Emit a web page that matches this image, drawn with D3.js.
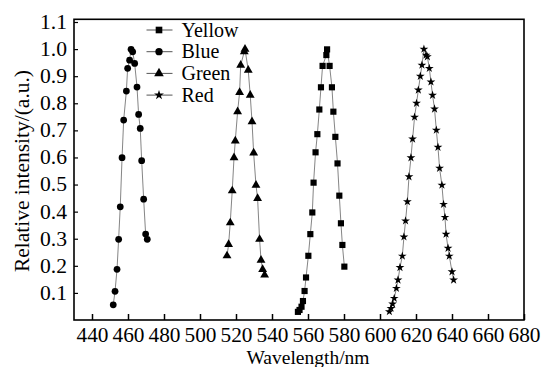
<!DOCTYPE html>
<html><head><meta charset="utf-8">
<script src="https://cdn.jsdelivr.net/npm/d3@7"></script>
<style>body{margin:0;background:#fff}svg{display:block}</style>
</head><body><svg id="c" width="549" height="367"></svg>
<script>
const xTicks=[440,460,480,500,520,540,560,580,600,620,640,660,680];
const yTicks=[0.1,0.2,0.3,0.4,0.5,0.6,0.7,0.8,0.9,1.0,1.1];
const seriesNames=["Yellow","Blue","Green","Red"];
const blueX=[451.8,452.8,453.9,454.8,455.7,456.7,457.6,459.1,459.8,460.9,461.7,462.6,463.7,465.0,465.9,466.8,467.6,468.7,469.8,470.7];
const blueY=[0.056,0.106,0.187,0.298,0.418,0.599,0.738,0.845,0.929,0.959,0.999,0.990,0.947,0.860,0.759,0.707,0.588,0.446,0.317,0.298];
const greenX=[515.0,515.9,516.8,517.9,518.9,519.6,520.9,522.0,522.6,524.6,525.0,526.8,527.9,528.9,529.8,531.1,532.0,533.1,533.9,534.8,535.9];
const greenY=[0.237,0.279,0.359,0.477,0.599,0.661,0.769,0.840,0.941,0.990,1.000,0.922,0.830,0.732,0.617,0.498,0.449,0.298,0.221,0.187,0.166];
const yellowX=[554.4,555.3,556.4,557.2,558.1,558.9,560.2,561.3,562.4,563.1,564.2,565.2,566.3,567.2,568.1,570.2,570.6,572.0,573.3,574.1,575.2,576.4,577.4,578.3,579.1,580.2];
const yellowY=[0.030,0.037,0.049,0.070,0.107,0.157,0.237,0.317,0.397,0.507,0.619,0.686,0.777,0.859,0.938,0.978,0.999,0.938,0.859,0.769,0.676,0.578,0.459,0.357,0.277,0.197];
const redX=[605.2,606.1,607.0,607.9,609.1,610.0,611.1,612.4,613.3,614.2,615.2,616.1,617.2,618.1,619.2,620.3,621.3,622.4,623.3,624.4,625.6,626.3,627.4,628.3,629.2,630.3,631.3,632.2,633.1,634.4,635.3,636.1,636.7,637.8,638.5,640.0,640.9];
const redY=[0.031,0.043,0.059,0.080,0.117,0.148,0.194,0.236,0.307,0.366,0.437,0.529,0.599,0.668,0.749,0.800,0.849,0.900,0.941,1.000,0.978,0.972,0.929,0.879,0.830,0.779,0.701,0.638,0.560,0.498,0.427,0.379,0.317,0.265,0.236,0.178,0.148];

const FONT="Liberation Serif";
const svg=d3.select("#c");
const L=74,R=524,T=19.3,B=320;
const x=d3.scaleLinear().domain([430,680]).range([L,R]);
const y=d3.scaleLinear().domain([0,1.11]).range([B,T]);

const series=[
 {name:"Yellow",xs:yellowX,ys:yellowY,sym:d3.symbolSquare,size:38},
 {name:"Blue",xs:blueX,ys:blueY,sym:d3.symbolCircle,size:36},
 {name:"Green",xs:greenX,ys:greenY,sym:d3.symbolTriangle,size:34},
 {name:"Red",xs:redX,ys:redY,sym:d3.symbolStar,size:24}
];

const xa=svg.append("g").attr("transform",`translate(0,${B})`)
 .call(d3.axisBottom(x).tickValues(xTicks).tickSizeInner(-6).tickSizeOuter(0).tickPadding(10));
xa.select(".domain").remove();
xa.selectAll(".tick line").attr("stroke","#000").attr("stroke-width",1.5);
xa.selectAll(".tick text").attr("font-size",20).attr("fill","#000")
 .attr("textLength",32).attr("lengthAdjust","spacingAndGlyphs").attr("dy","0.62em");

const ya=svg.append("g").attr("transform",`translate(${L},0)`)
 .call(d3.axisLeft(y).tickValues(yTicks).tickFormat(d3.format(".1f")).tickSizeInner(-4).tickSizeOuter(0).tickPadding(7));
ya.select(".domain").remove();
ya.selectAll(".tick line").attr("stroke","#000").attr("stroke-width",1.2);
ya.selectAll(".tick text").attr("font-size",20).attr("fill","#000")
 .attr("textLength",27).attr("lengthAdjust","spacingAndGlyphs");

svg.append("rect").attr("x",L).attr("y",T).attr("width",R-L).attr("height",B-T)
 .attr("fill","none").attr("stroke","#000").attr("stroke-width",1.6);

const line=d3.line().x(d=>x(d[0])).y(d=>y(d[1]));
series.forEach(s=>{
 const pts=s.xs.map((v,i)=>[v,s.ys[i]]);
 svg.append("path").datum(pts).attr("d",line).attr("fill","none").attr("stroke","#666").attr("stroke-width",0.8);
 svg.append("g").selectAll("path").data(pts).join("path")
  .attr("transform",d=>`translate(${x(d[0])},${y(d[1])})`)
  .attr("d",d3.symbol().type(s.sym).size(s.size)).attr("fill","#000");
});

const lg=svg.append("g");
series.forEach((s,i)=>{
 const cy=30+i*21.7;
 lg.append("line").attr("x1",146.5).attr("x2",172.5).attr("y1",cy).attr("y2",cy).attr("stroke","#555").attr("stroke-width",1);
 lg.append("path").attr("transform",`translate(159,${cy})`).attr("d",d3.symbol().type(s.sym).size(s.size+6)).attr("fill","#000");
 lg.append("text").attr("x",181.5).attr("y",cy+6.5).attr("font-size",20).text(seriesNames[i]);
});

svg.append("text").attr("x",308).attr("y",364).attr("text-anchor","middle").attr("font-size",19.5).text("Wavelength/nm");
svg.append("text").attr("transform","translate(29,171) rotate(-90)").attr("text-anchor","middle").attr("font-size",20)
 .attr("textLength",202).attr("lengthAdjust","spacingAndGlyphs").text("Relative intensity/(a.u.)");

svg.selectAll("g").attr("font-family",FONT);
svg.selectAll("text").attr("font-family",FONT).style("font-family","'Liberation Serif', 'Times New Roman', serif");
</script></body></html>
